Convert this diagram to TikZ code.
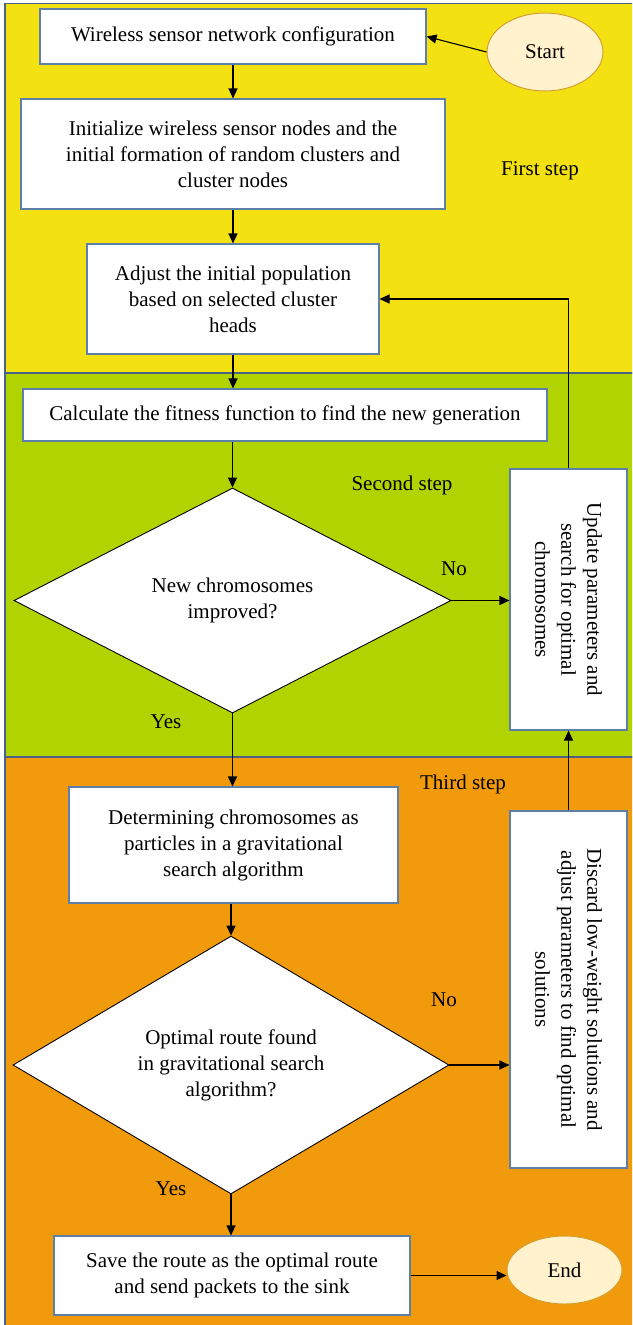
\documentclass[tikz,border=0pt]{standalone}
\usepackage{fontspec}
\setmainfont{Liberation Serif}
\usetikzlibrary{shapes.geometric,arrows.meta}
\definecolor{bandY}{HTML}{F4E112}
\definecolor{bandG}{HTML}{B1D300}
\definecolor{bandO}{HTML}{F19A0C}
\definecolor{bandline}{HTML}{4A6283}
\definecolor{boxline}{HTML}{5E7FA8}
\definecolor{ellfill}{HTML}{FFF2CC}
\definecolor{ellline}{HTML}{D4A030}
\tikzset{
  band/.style={draw=bandline, line width=1.2pt},
  box/.style={draw=boxline, fill=white, line width=1.1pt, rectangle, inner sep=0pt, align=center},
  vbox/.style={box, rotate=-90},
  dec/.style={draw=black, fill=white, line width=0.9pt, diamond, inner sep=0pt, align=center},
  term/.style={draw=ellline, fill=ellfill, line width=1pt, ellipse, inner sep=0pt},
  lbl/.style={inner sep=0pt},
  arr/.style={draw=black, line width=1.1pt, -{Triangle[length=10pt,width=9pt]}},
  ln/.style={draw=black, line width=1.1pt}
}
\begin{document}
\begin{tikzpicture}[x=1pt,y=-1pt,font=\fontsize{21}{26}\selectfont]
\useasboundingbox (0,0) rectangle (632,1325);
\clip (0,0) rectangle (632,1325);
% bands
\draw[band, fill=bandY] (5,3.5) rectangle (645,373);
\draw[band, fill=bandG] (5,373) rectangle (645,757);
\draw[band, fill=bandO] (5,757) rectangle (645,1340);
% nodes
\node[box, minimum width=386, minimum height=55] (b1) at (233,36.5) {Wireless sensor network configuration};
\node[box, minimum width=424, minimum height=110] (b2) at (233,154) {Initialize wireless sensor nodes and the\\initial formation of random clusters and\\cluster nodes};
\node[box, minimum width=292, minimum height=110] (b3) at (233,299) {Adjust the initial population\\based on selected cluster\\heads};
\node[box, minimum width=524, minimum height=52] (b4) at (285,415) {Calculate the fitness function to find the new generation};
\node[dec, minimum width=437, minimum height=225] (d1) at (232.5,600.5) {New chromosomes\\improved?};
\node[vbox, minimum width=261, minimum height=117] (upd) at (568.5,599.5) {Update parameters and\\search for optimal\\chromosomes};
\node[box, minimum width=329, minimum height=116] (b5) at (233.5,845) {Determining chromosomes as\\particles in a gravitational\\search algorithm};
\node[dec, minimum width=436, minimum height=224] (d2) at (231,1065) {Optimal route found\\in gravitational search\\algorithm?};
\node[vbox, minimum width=357, minimum height=117] (dis) at (568.5,989.5) {Discard low-weight solutions and\\adjust parameters to find optimal\\solutions};
\node[box, minimum width=356, minimum height=79] (b6) at (232,1275.5) {Save the route as the optimal route\\and send packets to the sink};
\node[term, minimum width=116, minimum height=78] (start) at (545,52) {Start};
\node[term, minimum width=115, minimum height=68] (end) at (564.5,1270) {End};
% labels
\node[lbl] (l1) at (540,171) {First step};
\node[lbl] (l2) at (402,485) {Second step};
\node[lbl] (l3) at (463,784) {Third step};
\node[lbl] (y1) at (166,722) {Yes};
\node[lbl] (n1) at (454,569) {No};
\node[lbl] (n2) at (444,1000) {No};
\node[lbl] (y2) at (171,1189) {Yes};
% connectors
\draw[arr] (start.west) -- (b1.east);
\draw[arr] (b1.south) -- (b1.south |- b2.north);
\draw[arr] (b2.south) -- (b2.south |- b3.north);
\draw[arr] (b3.south) -- (b3.south |- b4.north);
\draw[arr] (d1.north |- b4.south) -- (d1.north);
\draw[arr] (d1.east) -- (d1.east -| upd.south);
\draw[arr] (upd.west) |- (b3.east);
\draw[arr] (d1.south) -- (d1.south |- b5.north);
\draw[arr] (d2.north |- b5.south) -- (d2.north);
\draw[arr] (d2.east) -- (d2.east -| dis.south);
\draw[arr] (dis.west) -- (upd.east);
\draw[arr] (d2.south) -- (d2.south |- b6.north);
\draw[arr] (b6.east) -- (b6.east -| end.west);
\end{tikzpicture}
\end{document}
